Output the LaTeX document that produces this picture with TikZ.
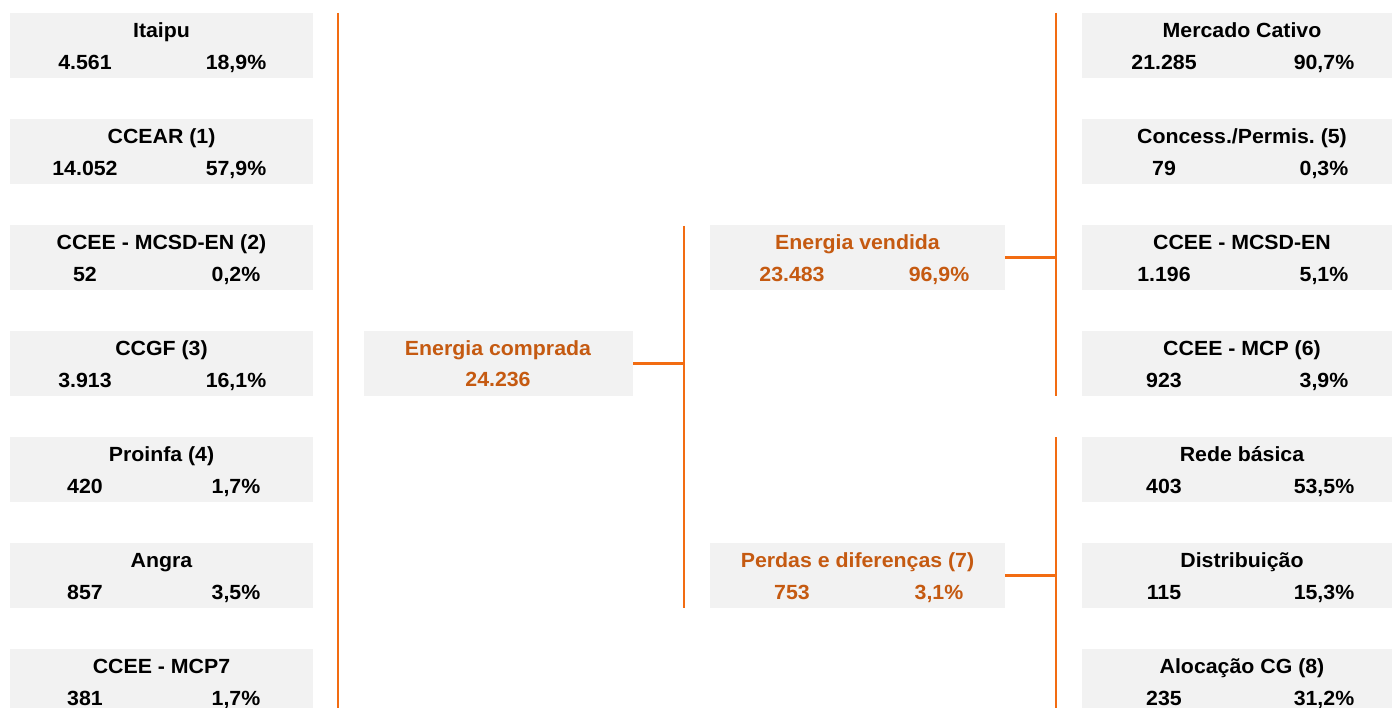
\documentclass[tikz,border=0pt]{standalone}
\usepackage{fontspec}
\setmainfont{Liberation Sans}[FakeStretch=1.04]
\frenchspacing
\definecolor{boxgray}{HTML}{F2F2F2}
\definecolor{lineor}{HTML}{F26C12}
\definecolor{txtor}{HTML}{C55A11}
\tikzset{
  box/.style={fill=boxgray, draw=none, minimum height=65pt, inner sep=0pt, anchor=north west},
  lbl/.style={font=\bfseries\fontsize{20.5}{24}\selectfont, inner sep=0pt, anchor=base},
  conn/.style={draw=lineor, line width=2.5pt},
}
\newcommand{\leftbox}[5]{%
  \node[box, minimum width=303pt] (#1) at (10,#2) {};
  \node[lbl] (#1t) at (161.5,#2+24.3) {#3};
  \node[lbl] (#1n) at (85,#2+56.3) {#4};
  \node[lbl] (#1p) at (236,#2+56.3) {#5};
}
\newcommand{\rightbox}[5]{%
  \node[box, minimum width=310pt] (#1) at (1082,#2) {};
  \node[lbl] (#1t) at (1242,#2+24.3) {#3};
  \node[lbl] (#1n) at (1164,#2+56.3) {#4};
  \node[lbl] (#1p) at (1324,#2+56.3) {#5};
}
\newcommand{\midbox}[5]{%
  \node[box, minimum width=295pt] (#1) at (710,#2) {};
  \node[lbl, txtor] (#1t) at (857.5,#2+24.3) {#3};
  \node[lbl, txtor] (#1n) at (792,#2+56.3) {#4};
  \node[lbl, txtor] (#1p) at (939,#2+56.3) {#5};
}
\begin{document}
\begin{tikzpicture}[x=1pt,y=-1pt]
\useasboundingbox[fill=white] (0,0) rectangle (1392,708);
% left column
\leftbox{itaipu}{13}{Itaipu}{4.561}{18,9\%}
\leftbox{ccear}{119}{CCEAR (1)}{14.052}{57,9\%}
\leftbox{mcsdl}{225}{CCEE - MCSD-EN (2)}{52}{0,2\%}
\leftbox{ccgf}{331}{CCGF (3)}{3.913}{16,1\%}
\leftbox{proinfa}{437}{Proinfa (4)}{420}{1,7\%}
\leftbox{angra}{543}{Angra}{857}{3,5\%}
\leftbox{mcpl}{649}{CCEE - MCP7}{381}{1,7\%}
% center
\node[box, minimum width=269pt] (comp) at (364,331) {};
\node[lbl, txtor] (compt) at (498,331+24.5) {Energia comprada};
\node[lbl, txtor] (compn) at (498,331+56) {24.236};
\midbox{vend}{225}{Energia vendida}{23.483}{96,9\%}
\midbox{perd}{543}{Perdas e diferenças (7)}{753}{3,1\%}
% right column
\rightbox{cativo}{13}{Mercado Cativo}{21.285}{90,7\%}
\rightbox{concess}{119}{Concess./Permis. (5)}{79}{0,3\%}
\rightbox{mcsdr}{225}{CCEE - MCSD-EN}{1.196}{5,1\%}
\rightbox{mcpr}{331}{CCEE - MCP (6)}{923}{3,9\%}
\rightbox{rede}{437}{Rede básica}{403}{53,5\%}
\rightbox{dist}{543}{Distribuição}{115}{15,3\%}
\rightbox{aloc}{649}{Alocação CG (8)}{235}{31,2\%}
% connectors
\coordinate (ltop) at (338,13);
\coordinate (lbot) at (338,708);
\coordinate (mtop) at (684,226);
\coordinate (mbot) at (684,608);
\coordinate (rutop) at (1056,13);
\coordinate (rubot) at (1056,396);
\coordinate (rltop) at (1056,437);
\coordinate (rlbot) at (1056,708);
\draw[conn] (ltop) -- (lbot);
\draw[conn] (mtop) -- (mbot);
\draw[conn] (rutop) -- (rubot);
\draw[conn] (rltop) -- (rlbot);
\draw[conn] (comp.east) -- (comp.east -| mtop);
\draw[conn] (vend.east) -- (vend.east -| rutop);
\draw[conn] (perd.east) -- (perd.east -| rltop);
\end{tikzpicture}
\end{document}
